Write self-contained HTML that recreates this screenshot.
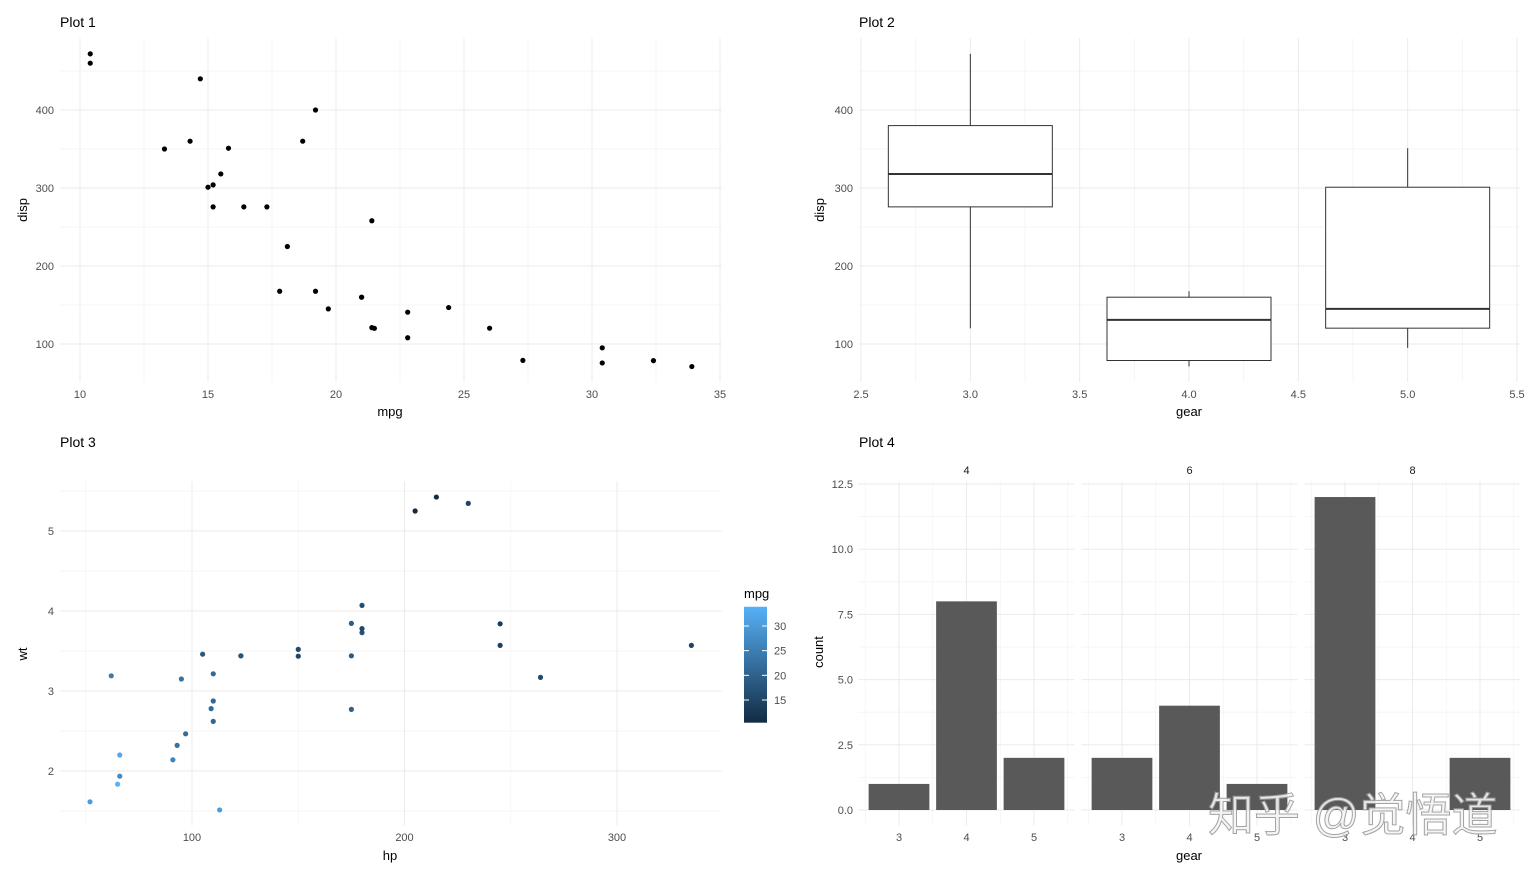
<!DOCTYPE html>
<html><head><meta charset="utf-8"><style>
body{margin:0;background:#fff;}
svg{display:block;font-family:"Liberation Sans","Noto Sans CJK SC",sans-serif;}
.tick{font-size:11px;fill:#4D4D4D;}
.ttl{font-size:14px;fill:#000;}
.lab{font-size:13px;fill:#000;}
</style></head><body>
<svg id="c" width="1536" height="877" viewBox="0 0 1536 877"></svg>
<script>
// mtcars data
const mpg=[21,21,22.8,21.4,18.7,18.1,14.3,24.4,22.8,19.2,17.8,16.4,17.3,15.2,10.4,10.4,14.7,32.4,30.4,33.9,21.5,15.5,15.2,13.3,19.2,27.3,26,30.4,15.8,19.7,15,21.4];
const disp=[160,160,108,258,360,225,360,146.7,140.8,167.6,167.6,275.8,275.8,275.8,472,460,440,78.7,75.7,71.1,120.1,318,304,350,400,79,120.3,95.1,351,145,301,121];
const hp=[110,110,93,110,175,105,245,62,95,123,123,180,180,180,205,215,230,66,52,65,97,150,150,245,175,66,91,113,264,175,335,109];
const wt=[2.62,2.875,2.32,3.215,3.44,3.46,3.57,3.19,3.15,3.44,3.44,4.07,3.73,3.78,5.25,5.424,5.345,2.2,1.615,1.835,2.465,3.52,3.435,3.84,3.845,1.935,2.14,1.513,3.17,2.77,3.57,2.78];
const gearLevels=[3,4,5];
const boxLow=[120.1,71.1,95.1];
const boxQ1=[275.8,78.85,120.3];
const boxMed=[318,130.9,145];
const boxQ3=[380,160,301];
const boxHigh=[472,167.6,351];
const cylLevels=[4,6,8];
const countsCyl4=[1,8,2];
const countsCyl6=[2,4,1];
const countsCyl8=[12,0,2];
const dispTicks=[100,200,300,400];
const mpgTicks=[10,15,20,25,30,35];
const gearTicks=[2.5,3.0,3.5,4.0,4.5,5.0,5.5];
const hpTicks=[100,200,300];
const wtTicks=[2,3,4,5];
const countTicks=[0,2.5,5,7.5,10,12.5];
const legendTicks=[15,20,25,30];

const svg=document.getElementById('c');
const NS='http://www.w3.org/2000/svg';
function el(tag,attrs,parent){const e=document.createElementNS(NS,tag);for(const k in attrs)e.setAttribute(k,attrs[k]);(parent||svg).appendChild(e);return e;}
function txt(s,x,y,cls,anchor,parent){const t=el('text',{x:x,y:y,class:cls,'text-anchor':anchor||'middle'},parent);t.textContent=s;return t;}
function lin(d0,d1,r0,r1){return v=>r0+(v-d0)*(r1-r0)/(d1-d0);}
function grid(g,x0,x1,y0,y1,xs,ys,col,w){
  xs.forEach(v=>el('line',{x1:v,x2:v,y1:y0,y2:y1,stroke:col,'stroke-width':w},g));
  ys.forEach(v=>el('line',{x1:x0,x2:x1,y1:v,y2:v,stroke:col,'stroke-width':w},g));
}
function fmt(v,d){return v.toFixed(d);}

// ---------- Plot 1 ----------
(function(){
  const g=el('g',{});
  
  
  const X=lin(10,35,80,720), Y=lin(100,400,344,110);
  const L=X(9.225),R=X(35.075),T=Y(492.05),B=Y(51.06);
  const minorX=[];for(let v=7.5;v<=35;v+=5)minorX.push(X(v));
  const minorY=[50,150,250,350,450].map(Y);
  grid(g,L,R,T,B,minorX.filter(v=>v>=L&&v<=R),minorY.filter(v=>v>=T&&v<=B),'#F3F3F3',0.8);
  grid(g,L,R,T,B,mpgTicks.map(X),dispTicks.map(Y),'#EBEBEB',1);
  mpgTicks.forEach(v=>txt(String(v),X(v),398,'tick','middle',g));
  dispTicks.forEach(v=>txt(String(v),54,Y(v)+4,'tick','end',g));
  mpg.forEach((m,i)=>{const c=el('circle',{cx:X(m),cy:Y(disp[i]),r:2.6,fill:'#000'},g);
    
    });
  const t=txt('Plot 1',60,27,'ttl','start',g);
  const xl=txt('mpg',390,416,'lab','middle',g);
  const yl=txt('disp',0,0,'lab','middle',g);yl.setAttribute('transform','translate(27,210) rotate(-90)');
})();

// ---------- Plot 2 ----------
(function(){
  const g=el('g',{});
  
  
  const X=lin(2.5,5.5,861,1517), Y=lin(100,400,344,110);
  const L=X(2.4875),R=X(5.5125),T=Y(492.05),B=Y(51.06);
  const minorX=[2.75,3.25,3.75,4.25,4.75,5.25].map(X);
  const minorY=[50,150,250,350,450].map(Y).filter(v=>v>=T&&v<=B);
  grid(g,L,R,T,B,minorX,minorY,'#F3F3F3',0.8);
  grid(g,L,R,T,B,gearTicks.map(X),dispTicks.map(Y),'#EBEBEB',1);
  gearTicks.forEach(v=>txt(fmt(v,1),X(v),398,'tick','middle',g));
  dispTicks.forEach(v=>txt(String(v),853,Y(v)+4,'tick','end',g));
  gearLevels.forEach((gv,i)=>{
    const bg=el('g',{},g);
    
    
    const cx=X(gv),hw=0.375*(X(1)-X(0));
    el('line',{x1:cx,x2:cx,y1:Y(boxHigh[i]),y2:Y(boxQ3[i]),stroke:'#333','stroke-width':1},bg);
    el('line',{x1:cx,x2:cx,y1:Y(boxQ1[i]),y2:Y(boxLow[i]),stroke:'#333','stroke-width':1},bg);
    el('rect',{x:cx-hw,y:Y(boxQ3[i]),width:2*hw,height:Y(boxQ1[i])-Y(boxQ3[i]),fill:'#fff',stroke:'#333','stroke-width':1},bg);
    el('line',{x1:cx-hw,x2:cx+hw,y1:Y(boxMed[i]),y2:Y(boxMed[i]),stroke:'#333','stroke-width':2},bg);
  });
  const t=txt('Plot 2',859,27,'ttl','start',g);
  const xl=txt('gear',1189,416,'lab','middle',g);
  const yl=txt('disp',0,0,'lab','middle',g);yl.setAttribute('transform','translate(824,210) rotate(-90)');
})();

// ---------- Plot 3 ----------
function mpgColor(v){
  const t=(v-10.4)/(33.9-10.4);
  const a=[0x13,0x2B,0x43],b=[0x56,0xB1,0xF7];
  return 'rgb('+a.map((c,k)=>Math.round(c+(b[k]-c)*t)).join(',')+')';
}
(function(){
  const g=el('g',{});
  
  
  const X=lin(100,300,192,617), Y=lin(2,5,771,531);
  const L=X(37.85),R=X(349.15),T=Y(5.62),B=Y(1.317);
  const minorX=[50,150,250].map(X).filter(v=>v>=L&&v<=R);
  const minorY=[1.5,2.5,3.5,4.5,5.5].map(Y).filter(v=>v>=T&&v<=B);
  grid(g,L,R,T,B,minorX,minorY,'#F3F3F3',0.8);
  grid(g,L,R,T,B,hpTicks.map(X),wtTicks.map(Y),'#EBEBEB',1);
  hpTicks.forEach(v=>txt(String(v),X(v),841,'tick','middle',g));
  wtTicks.forEach(v=>txt(String(v),54,Y(v)+4,'tick','end',g));
  hp.forEach((h,i)=>{const c=el('circle',{cx:X(h),cy:Y(wt[i]),r:2.6,fill:mpgColor(mpg[i])},g);
    
    });
  const t=txt('Plot 3',60,447,'ttl','start',g);
  const xl=txt('hp',390,860,'lab','middle',g);
  const yl=txt('wt',0,0,'lab','middle',g);yl.setAttribute('transform','translate(27,654) rotate(-90)');
  // legend
  const lg=el('g',{},g);
  
  
  txt('mpg',744,598,'lab','start',lg);
  const LY=lin(15,30,700,626);
  const defs=el('defs',{},lg);
  const gr=el('linearGradient',{id:'cg',x1:0,y1:1,x2:0,y2:0},defs);
  el('stop',{offset:0,'stop-color':mpgColor(10.4)},gr);
  el('stop',{offset:1,'stop-color':mpgColor(33.9)},gr);
  el('rect',{x:744,y:LY(33.9),width:23,height:LY(10.4)-LY(33.9),fill:'url(#cg)'},lg);
  legendTicks.forEach(v=>{
    el('line',{x1:744,x2:749,y1:LY(v),y2:LY(v),stroke:'#fff','stroke-width':1},lg);
    el('line',{x1:762,x2:767,y1:LY(v),y2:LY(v),stroke:'#fff','stroke-width':1},lg);
    txt(String(v),774,LY(v)+4,'tick','start',lg);
  });
})();

// ---------- Plot 4 ----------
(function(){
  const g=el('g',{});
  
  
  const Y=lin(0,12.5,810,484);
  const T=Y(12.6),B=Y(-0.6);
  const unit=67.5;
  const starts=[858.5,1081.5,1304.5];
  const allCounts=[countsCyl4,countsCyl6,countsCyl8];
  cylLevels.forEach((cyl,f)=>{
    const fg=el('g',{},g);
    
    
    const X=v=>starts[f]+(v-2.4)*unit;
    const L=X(2.4),R=X(5.6);
    const minorY=[1.25,3.75,6.25,8.75,11.25].map(Y);
    grid(fg,L,R,T,B,[2.5,3.5,4.5,5.5].map(X),minorY,'#F3F3F3',0.8);
    grid(fg,L,R,T,B,gearLevels.map(X),countTicks.map(Y),'#EBEBEB',1);
    txt(String(cyl),(L+R)/2,474,'tick','middle',fg).setAttribute('style','fill:#1A1A1A;font-size:11px');
    gearLevels.forEach((gv,i)=>{
      txt(String(gv),X(gv),841,'tick','middle',fg);
      const c=allCounts[f][i];
      if(c>0){const r=el('rect',{x:X(gv)-0.45*unit,y:Y(c),width:0.9*unit,height:Y(0)-Y(c),fill:'#595959'},fg);
        
        }
    });
  });
  countTicks.forEach(v=>txt(fmt(v,1),853,Y(v)+4,'tick','end',g));
  const t=txt('Plot 4',859,447,'ttl','start',g);
  const xl=txt('gear',1189,860,'lab','middle',g);
  const yl=txt('count',0,0,'lab','middle',g);yl.setAttribute('transform','translate(823,652) rotate(-90)');
})();

// watermark
const wm=txt('知乎 @觉悟道',1208,831,'','start');
wm.setAttribute('style','font-size:46px;fill:#f4f4f4;stroke:#9a9a9a;stroke-width:1;opacity:0.9');


</script>
</body></html>
